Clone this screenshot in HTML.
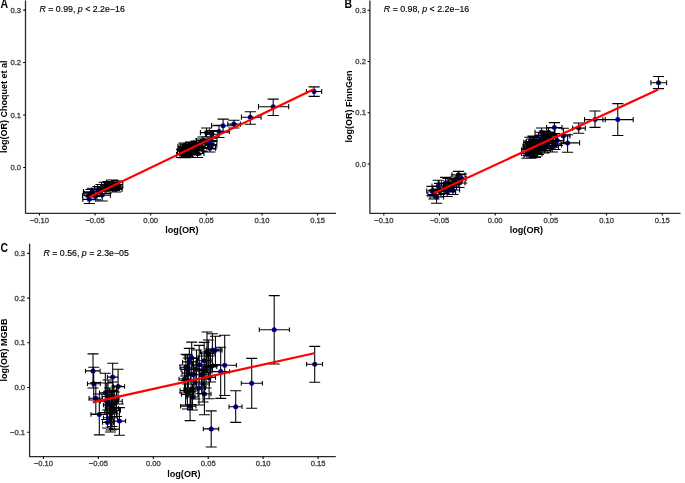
<!DOCTYPE html>
<html><head><meta charset="utf-8"><style>
html,body{margin:0;padding:0;background:#fff;}
body{width:685px;height:483px;overflow:hidden;}
svg{display:block;font-family:"Liberation Sans", sans-serif;will-change:transform;}

</style></head><body>
<svg width="685" height="483" viewBox="0 0 685 483">
<rect width="685" height="483" fill="#fff"/>
<g fill="#0000e6"><circle cx="314.10" cy="91.50" r="2.5"/><circle cx="273.20" cy="106.70" r="2.5"/><circle cx="250.30" cy="117.20" r="2.5"/><circle cx="233.90" cy="124.10" r="2.5"/><circle cx="223.10" cy="125.70" r="2.5"/><circle cx="219.00" cy="131.40" r="2.5"/><circle cx="206.60" cy="132.60" r="2.5"/><circle cx="211.90" cy="134.30" r="2.5"/><circle cx="211.20" cy="140.60" r="2.5"/><circle cx="207.60" cy="143.60" r="2.5"/><circle cx="211.50" cy="145.20" r="2.5"/><circle cx="209.90" cy="148.20" r="2.5"/><circle cx="197.60" cy="153.50" r="2.5"/><circle cx="195.00" cy="149.50" r="2.5"/><circle cx="183.50" cy="150.50" r="2.5"/><circle cx="181.50" cy="153.50" r="2.5"/><circle cx="184.50" cy="147.00" r="2.5"/><circle cx="187.00" cy="152.00" r="2.5"/><circle cx="189.00" cy="148.50" r="2.5"/><circle cx="190.50" cy="145.50" r="2.5"/><circle cx="192.00" cy="150.50" r="2.5"/><circle cx="193.50" cy="147.00" r="2.5"/><circle cx="196.00" cy="144.50" r="2.5"/><circle cx="198.50" cy="146.50" r="2.5"/><circle cx="200.50" cy="142.50" r="2.5"/><circle cx="186.00" cy="155.00" r="2.5"/><circle cx="203.00" cy="140.50" r="2.5"/><circle cx="202.00" cy="147.50" r="2.5"/><circle cx="89.30" cy="199.30" r="2.5"/><circle cx="92.40" cy="191.70" r="2.5"/><circle cx="95.50" cy="196.40" r="2.5"/><circle cx="102.20" cy="195.10" r="2.5"/><circle cx="98.00" cy="190.00" r="2.5"/><circle cx="101.00" cy="188.00" r="2.5"/><circle cx="104.00" cy="186.50" r="2.5"/><circle cx="106.00" cy="190.00" r="2.5"/><circle cx="108.00" cy="185.00" r="2.5"/><circle cx="110.00" cy="186.50" r="2.5"/><circle cx="111.50" cy="183.50" r="2.5"/><circle cx="112.90" cy="183.00" r="2.5"/><circle cx="114.00" cy="187.00" r="2.5"/><circle cx="115.60" cy="189.40" r="2.5"/><circle cx="116.50" cy="184.50" r="2.5"/><circle cx="117.50" cy="186.00" r="2.5"/><circle cx="113.00" cy="188.50" r="2.5"/><circle cx="188.33" cy="149.90" r="2.5"/><circle cx="189.11" cy="149.82" r="2.5"/><circle cx="190.82" cy="151.11" r="2.5"/><circle cx="183.27" cy="154.68" r="2.5"/><circle cx="195.75" cy="150.61" r="2.5"/><circle cx="184.20" cy="146.31" r="2.5"/><circle cx="184.66" cy="148.37" r="2.5"/><circle cx="188.17" cy="152.80" r="2.5"/><circle cx="189.00" cy="150.63" r="2.5"/><circle cx="195.97" cy="150.82" r="2.5"/><circle cx="186.41" cy="147.46" r="2.5"/><circle cx="192.73" cy="146.33" r="2.5"/><circle cx="91.00" cy="193.20" r="2.5"/><circle cx="88.50" cy="195.80" r="2.5"/></g>
<path d="M314.10 96.40V86.90M308.54 96.40H319.66M308.54 86.90H319.66M306.40 91.50H321.70M306.40 88.88V94.12M321.70 88.88V94.12M273.20 115.50V99.10M267.64 115.50H278.76M267.64 99.10H278.76M258.50 106.70H288.70M258.50 104.08V109.32M288.70 104.08V109.32M250.30 124.20V111.70M244.74 124.20H255.86M244.74 111.70H255.86M241.40 117.20H261.10M241.40 114.58V119.82M261.10 114.58V119.82M233.90 128.00V120.30M228.34 128.00H239.46M228.34 120.30H239.46M227.70 124.10H240.40M227.70 121.48V126.72M240.40 121.48V126.72M223.10 132.30V119.10M217.54 132.30H228.66M217.54 119.10H228.66M211.60 125.70H234.60M211.60 123.08V128.32M234.60 123.08V128.32M219.00 137.50V125.30M213.44 137.50H224.56M213.44 125.30H224.56M209.50 131.40H229.40M209.50 128.78V134.02M229.40 128.78V134.02M206.60 136.80V128.00M201.04 136.80H212.16M201.04 128.00H212.16M200.40 132.60H213.60M200.40 129.98V135.22M213.60 129.98V135.22M211.90 138.30V130.50M206.34 138.30H217.46M206.34 130.50H217.46M205.50 134.30H218.50M205.50 131.68V136.92M218.50 131.68V136.92M211.20 144.50V137.00M205.64 144.50H216.76M205.64 137.00H216.76M205.00 140.60H217.00M205.00 137.98V143.22M217.00 137.98V143.22M207.60 147.50V139.50M202.04 147.50H213.16M202.04 139.50H213.16M201.00 143.60H214.00M201.00 140.98V146.22M214.00 140.98V146.22M211.50 149.00V141.50M205.94 149.00H217.06M205.94 141.50H217.06M205.00 145.20H216.80M205.00 142.58V147.82M216.80 142.58V147.82M209.90 152.00V144.50M204.34 152.00H215.46M204.34 144.50H215.46M203.90 148.20H215.50M203.90 145.58V150.82M215.50 145.58V150.82M197.60 157.50V149.50M192.04 157.50H203.16M192.04 149.50H203.16M191.00 153.50H204.00M191.00 150.88V156.12M204.00 150.88V156.12M195.00 153.00V146.00M189.44 153.00H200.56M189.44 146.00H200.56M188.00 149.50H202.00M188.00 146.88V152.12M202.00 146.88V152.12M183.50 154.50V146.50M177.94 154.50H189.06M177.94 146.50H189.06M177.30 150.50H190.00M177.30 147.88V153.12M190.00 147.88V153.12M181.50 157.50V149.50M175.94 157.50H187.06M175.94 149.50H187.06M177.50 153.50H188.00M177.50 150.88V156.12M188.00 150.88V156.12M184.50 151.00V143.10M178.94 151.00H190.06M178.94 143.10H190.06M178.00 147.00H191.00M178.00 144.38V149.62M191.00 144.38V149.62M187.00 156.00V148.00M181.44 156.00H192.56M181.44 148.00H192.56M180.50 152.00H193.50M180.50 149.38V154.62M193.50 149.38V154.62M189.00 152.00V145.00M183.44 152.00H194.56M183.44 145.00H194.56M182.50 148.50H195.50M182.50 145.88V151.12M195.50 145.88V151.12M190.50 149.00V142.00M184.94 149.00H196.06M184.94 142.00H196.06M184.00 145.50H197.00M184.00 142.88V148.12M197.00 142.88V148.12M192.00 154.00V147.00M186.44 154.00H197.56M186.44 147.00H197.56M185.50 150.50H198.50M185.50 147.88V153.12M198.50 147.88V153.12M193.50 150.50V143.50M187.94 150.50H199.06M187.94 143.50H199.06M187.00 147.00H200.00M187.00 144.38V149.62M200.00 144.38V149.62M196.00 148.00V141.00M190.44 148.00H201.56M190.44 141.00H201.56M189.50 144.50H202.50M189.50 141.88V147.12M202.50 141.88V147.12M198.50 150.00V143.00M192.94 150.00H204.06M192.94 143.00H204.06M192.00 146.50H205.00M192.00 143.88V149.12M205.00 143.88V149.12M200.50 146.00V139.00M194.94 146.00H206.06M194.94 139.00H206.06M194.00 142.50H207.00M194.00 139.88V145.12M207.00 139.88V145.12M186.00 157.60V151.50M180.44 157.60H191.56M180.44 151.50H191.56M180.00 155.00H192.50M180.00 152.38V157.62M192.50 152.38V157.62M203.00 144.00V137.00M197.44 144.00H208.56M197.44 137.00H208.56M196.50 140.50H209.50M196.50 137.88V143.12M209.50 137.88V143.12M202.00 151.00V144.00M196.44 151.00H207.56M196.44 144.00H207.56M196.00 147.50H208.50M196.00 144.88V150.12M208.50 144.88V150.12M89.30 203.50V195.10M83.74 203.50H94.86M83.74 195.10H94.86M82.80 199.30H95.80M82.80 196.68V201.92M95.80 196.68V201.92M92.40 195.50V188.30M86.84 195.50H97.96M86.84 188.30H97.96M83.40 191.70H101.00M83.40 189.08V194.32M101.00 189.08V194.32M95.50 199.80V193.00M89.94 199.80H101.06M89.94 193.00H101.06M89.00 196.40H102.00M89.00 193.78V199.02M102.00 193.78V199.02M102.20 201.00V189.40M96.64 201.00H107.76M96.64 189.40H107.76M95.50 195.10H110.40M95.50 192.48V197.72M110.40 192.48V197.72M98.00 193.50V186.50M92.44 193.50H103.56M92.44 186.50H103.56M91.50 190.00H104.50M91.50 187.38V192.62M104.50 187.38V192.62M101.00 191.50V184.50M95.44 191.50H106.56M95.44 184.50H106.56M94.50 188.00H107.50M94.50 185.38V190.62M107.50 185.38V190.62M104.00 190.50V182.20M98.44 190.50H109.56M98.44 182.20H109.56M97.50 186.50H110.50M97.50 183.88V189.12M110.50 183.88V189.12M106.00 193.50V186.50M100.44 193.50H111.56M100.44 186.50H111.56M99.50 190.00H112.50M99.50 187.38V192.62M112.50 187.38V192.62M108.00 188.50V181.50M102.44 188.50H113.56M102.44 181.50H113.56M101.50 185.00H114.50M101.50 182.38V187.62M114.50 182.38V187.62M110.00 190.00V183.00M104.44 190.00H115.56M104.44 183.00H115.56M103.50 186.50H116.50M103.50 183.88V189.12M116.50 183.88V189.12M111.50 187.00V180.00M105.94 187.00H117.06M105.94 180.00H117.06M105.00 183.50H118.00M105.00 180.88V186.12M118.00 180.88V186.12M112.90 186.50V180.00M107.34 186.50H118.46M107.34 180.00H118.46M106.50 183.00H119.50M106.50 180.38V185.62M119.50 180.38V185.62M114.00 190.50V183.50M108.44 190.50H119.56M108.44 183.50H119.56M107.50 187.00H120.50M107.50 184.38V189.62M120.50 184.38V189.62M115.60 192.00V186.50M110.04 192.00H121.16M110.04 186.50H121.16M109.00 189.40H122.00M109.00 186.78V192.02M122.00 186.78V192.02M116.50 188.00V181.00M110.94 188.00H122.06M110.94 181.00H122.06M110.00 184.50H122.80M110.00 181.88V187.12M122.80 181.88V187.12M117.50 189.00V182.50M111.94 189.00H123.06M111.94 182.50H123.06M111.00 186.00H122.80M111.00 183.38V188.62M122.80 183.38V188.62M113.00 192.00V185.00M107.44 192.00H118.56M107.44 185.00H118.56M106.50 188.50H119.50M106.50 185.88V191.12M119.50 185.88V191.12M188.33 153.53V146.26M182.77 153.53H193.90M182.77 146.26H193.90M181.23 149.90H195.44M181.23 147.27V152.52M195.44 147.27V152.52M189.11 153.53V146.12M183.55 153.53H194.67M183.55 146.12H194.67M183.41 149.82H194.81M183.41 147.20V152.45M194.81 147.20V152.45M190.82 154.48V147.74M185.25 154.48H196.38M185.25 147.74H196.38M185.29 151.11H196.35M185.29 148.49V153.74M196.35 148.49V153.74M183.27 157.62V151.73M177.71 157.62H188.83M177.71 151.73H188.83M176.60 154.68H189.93M176.60 152.05V157.30M189.93 152.05V157.30M195.75 154.49V146.73M190.19 154.49H201.31M190.19 146.73H201.31M189.16 150.61H202.34M189.16 147.99V153.23M202.34 147.99V153.23M184.20 149.28V143.33M178.64 149.28H189.77M178.64 143.33H189.77M177.85 146.31H190.56M177.85 143.68V148.93M190.56 143.68V148.93M184.66 152.00V144.74M179.10 152.00H190.23M179.10 144.74H190.23M179.25 148.37H190.07M179.25 145.75V150.99M190.07 145.75V150.99M188.17 156.72V148.88M182.60 156.72H193.73M182.60 148.88H193.73M181.83 152.80H194.50M181.83 150.18V155.42M194.50 150.18V155.42M189.00 153.96V147.30M183.43 153.96H194.56M183.43 147.30H194.56M182.78 150.63H195.22M182.78 148.00V153.25M195.22 148.00V153.25M195.97 154.85V146.80M190.40 154.85H201.53M190.40 146.80H201.53M189.02 150.82H202.91M189.02 148.20V153.45M202.91 148.20V153.45M186.41 150.45V144.47M180.85 150.45H191.98M180.85 144.47H191.98M180.51 147.46H192.32M180.51 144.84V150.08M192.32 144.84V150.08M192.73 149.83V142.82M187.16 149.83H198.29M187.16 142.82H198.29M185.77 146.33H199.68M185.77 143.70V148.95M199.68 143.70V148.95M91.00 197.00V189.50M85.44 197.00H96.56M85.44 189.50H96.56M84.00 193.20H97.50M84.00 190.58V195.82M97.50 190.58V195.82M88.50 199.50V192.50M82.94 199.50H94.06M82.94 192.50H94.06M82.50 195.80H95.00M82.50 193.18V198.42M95.00 193.18V198.42" stroke="#000" stroke-width="1.07" fill="none"/>
<line x1="89.1" y1="197.3" x2="313.8" y2="89.3" stroke="#ff0000" stroke-width="2.15"/>
<path d="M25.5 0.5V213.3H336.0" stroke="#2a2a2a" stroke-width="1.3" fill="none" stroke-linecap="butt" stroke-linejoin="round"/>
<text x="39.42" y="222.70" font-size="7.6" font-weight="normal" text-anchor="middle" fill="#3a3a3a" stroke="#3a3a3a" stroke-width="0.3" style="">−0.10</text>
<text x="95.06" y="222.70" font-size="7.6" font-weight="normal" text-anchor="middle" fill="#3a3a3a" stroke="#3a3a3a" stroke-width="0.3" style="">−0.05</text>
<text x="150.70" y="222.70" font-size="7.6" font-weight="normal" text-anchor="middle" fill="#3a3a3a" stroke="#3a3a3a" stroke-width="0.3" style="">0.00</text>
<text x="206.34" y="222.70" font-size="7.6" font-weight="normal" text-anchor="middle" fill="#3a3a3a" stroke="#3a3a3a" stroke-width="0.3" style="">0.05</text>
<text x="261.98" y="222.70" font-size="7.6" font-weight="normal" text-anchor="middle" fill="#3a3a3a" stroke="#3a3a3a" stroke-width="0.3" style="">0.10</text>
<text x="317.62" y="222.70" font-size="7.6" font-weight="normal" text-anchor="middle" fill="#3a3a3a" stroke="#3a3a3a" stroke-width="0.3" style="">0.15</text>
<text x="21.00" y="170.00" font-size="7.6" font-weight="normal" text-anchor="end" fill="#3a3a3a" stroke="#3a3a3a" stroke-width="0.3" style="">0.0</text>
<text x="21.00" y="117.53" font-size="7.6" font-weight="normal" text-anchor="end" fill="#3a3a3a" stroke="#3a3a3a" stroke-width="0.3" style="">0.1</text>
<text x="21.00" y="65.06" font-size="7.6" font-weight="normal" text-anchor="end" fill="#3a3a3a" stroke="#3a3a3a" stroke-width="0.3" style="">0.2</text>
<text x="21.00" y="12.59" font-size="7.6" font-weight="normal" text-anchor="end" fill="#3a3a3a" stroke="#3a3a3a" stroke-width="0.3" style="">0.3</text>
<path d="M39.42 213.3v2.3M95.06 213.3v2.3M150.70 213.3v2.3M206.34 213.3v2.3M261.98 213.3v2.3M317.62 213.3v2.3M25.5 167.50h-2.3M25.5 115.03h-2.3M25.5 62.56h-2.3M25.5 10.09h-2.3" stroke="#000" stroke-width="1.07" fill="none"/>
<text x="181.95" y="233.30" font-size="9.1" font-weight="bold" text-anchor="middle" fill="#000"  style="">log(OR)</text>
<text transform="translate(6.80,106.70) rotate(-90)" font-size="9.0" font-weight="bold" text-anchor="middle" fill="#000">log(OR) Choquet et al</text>
<text transform="translate(0.55,7.95) scale(0.87,1)" font-size="12" font-weight="bold" fill="#000">A</text>
<text x="39.42" y="12.19" font-size="8.8" font-weight="normal" text-anchor="start" fill="#000" stroke="#000" stroke-width="0.15" style=""><tspan font-style="italic">R</tspan> = 0.99, <tspan font-style="italic">p</tspan> < 2.2e−16</text>
<g fill="#0000e6"><circle cx="658.50" cy="82.70" r="2.5"/><circle cx="617.80" cy="119.60" r="2.5"/><circle cx="595.00" cy="119.60" r="2.5"/><circle cx="578.70" cy="128.10" r="2.5"/><circle cx="567.60" cy="142.90" r="2.5"/><circle cx="563.40" cy="136.00" r="2.5"/><circle cx="548.50" cy="132.50" r="2.5"/><circle cx="545.00" cy="135.50" r="2.5"/><circle cx="554.40" cy="127.60" r="2.5"/><circle cx="541.50" cy="132.20" r="2.5"/><circle cx="549.00" cy="136.90" r="2.5"/><circle cx="557.30" cy="140.60" r="2.5"/><circle cx="552.20" cy="147.10" r="2.5"/><circle cx="545.70" cy="145.70" r="2.5"/><circle cx="528.00" cy="150.00" r="2.5"/><circle cx="527.00" cy="153.50" r="2.5"/><circle cx="530.00" cy="146.50" r="2.5"/><circle cx="532.00" cy="151.00" r="2.5"/><circle cx="533.00" cy="141.50" r="2.5"/><circle cx="535.00" cy="148.00" r="2.5"/><circle cx="537.00" cy="144.50" r="2.5"/><circle cx="538.50" cy="150.00" r="2.5"/><circle cx="540.00" cy="140.00" r="2.5"/><circle cx="542.00" cy="146.50" r="2.5"/><circle cx="530.50" cy="156.00" r="2.5"/><circle cx="543.50" cy="137.50" r="2.5"/><circle cx="546.50" cy="141.00" r="2.5"/><circle cx="535.50" cy="154.00" r="2.5"/><circle cx="436.60" cy="197.00" r="2.5"/><circle cx="432.00" cy="191.00" r="2.5"/><circle cx="434.00" cy="194.60" r="2.5"/><circle cx="439.60" cy="189.00" r="2.5"/><circle cx="438.20" cy="186.00" r="2.5"/><circle cx="445.50" cy="183.00" r="2.5"/><circle cx="444.00" cy="189.00" r="2.5"/><circle cx="447.20" cy="191.80" r="2.5"/><circle cx="448.00" cy="183.80" r="2.5"/><circle cx="450.00" cy="187.00" r="2.5"/><circle cx="452.00" cy="185.00" r="2.5"/><circle cx="453.00" cy="190.00" r="2.5"/><circle cx="455.00" cy="182.00" r="2.5"/><circle cx="456.30" cy="179.50" r="2.5"/><circle cx="458.50" cy="174.80" r="2.5"/><circle cx="461.70" cy="178.40" r="2.5"/><circle cx="459.00" cy="183.00" r="2.5"/><circle cx="531.89" cy="142.81" r="2.5"/><circle cx="534.43" cy="145.39" r="2.5"/><circle cx="528.45" cy="146.20" r="2.5"/><circle cx="533.09" cy="150.92" r="2.5"/><circle cx="535.53" cy="152.37" r="2.5"/><circle cx="539.72" cy="141.56" r="2.5"/><circle cx="529.73" cy="142.41" r="2.5"/><circle cx="530.17" cy="147.98" r="2.5"/><circle cx="534.57" cy="141.75" r="2.5"/><circle cx="536.16" cy="146.13" r="2.5"/><circle cx="533.44" cy="144.60" r="2.5"/><circle cx="530.93" cy="147.89" r="2.5"/><circle cx="547.50" cy="143.50" r="2.5"/><circle cx="551.00" cy="139.00" r="2.5"/><circle cx="544.00" cy="149.00" r="2.5"/><circle cx="555.00" cy="145.00" r="2.5"/></g>
<path d="M658.50 88.60V76.50M652.93 88.60H664.07M652.93 76.50H664.07M650.90 82.70H666.60M650.90 80.14V85.26M666.60 80.14V85.26M617.80 135.50V103.60M612.23 135.50H623.37M612.23 103.60H623.37M602.90 119.60H633.20M602.90 117.04V122.16M633.20 117.04V122.16M595.00 127.40V111.00M589.43 127.40H600.57M589.43 111.00H600.57M584.50 119.60H605.30M584.50 117.04V122.16M605.30 117.04V122.16M578.70 133.20V123.00M573.13 133.20H584.27M573.13 123.00H584.27M572.60 128.10H585.30M572.60 125.54V130.66M585.30 125.54V130.66M567.60 152.20V134.80M562.03 152.20H573.17M562.03 134.80H573.17M561.00 142.90H579.60M561.00 140.34V145.46M579.60 140.34V145.46M563.40 143.80V128.20M557.83 143.80H568.97M557.83 128.20H568.97M557.00 136.00H570.00M557.00 133.44V138.56M570.00 133.44V138.56M548.50 137.50V128.00M542.93 137.50H554.07M542.93 128.00H554.07M542.00 132.50H555.00M542.00 129.94V135.06M555.00 129.94V135.06M545.00 140.00V131.00M539.43 140.00H550.57M539.43 131.00H550.57M538.50 135.50H551.50M538.50 132.94V138.06M551.50 132.94V138.06M554.40 133.50V122.60M548.83 133.50H559.97M548.83 122.60H559.97M546.60 127.60H562.00M546.60 125.04V130.16M562.00 125.04V130.16M541.50 137.00V128.00M535.93 137.00H547.07M535.93 128.00H547.07M535.00 132.20H548.00M535.00 129.64V134.76M548.00 129.64V134.76M549.00 142.00V132.00M543.43 142.00H554.57M543.43 132.00H554.57M542.50 136.90H555.50M542.50 134.34V139.46M555.50 134.34V139.46M557.30 145.50V135.50M551.73 145.50H562.87M551.73 135.50H562.87M551.00 140.60H564.00M551.00 138.04V143.16M564.00 138.04V143.16M552.20 152.00V142.00M546.63 152.00H557.77M546.63 142.00H557.77M546.00 147.10H558.50M546.00 144.54V149.66M558.50 144.54V149.66M545.70 150.50V141.00M540.13 150.50H551.27M540.13 141.00H551.27M539.00 145.70H552.00M539.00 143.14V148.26M552.00 143.14V148.26M528.00 155.50V145.00M522.43 155.50H533.57M522.43 145.00H533.57M521.50 150.00H535.00M521.50 147.44V152.56M535.00 147.44V152.56M527.00 158.30V149.00M521.43 158.30H532.57M521.43 149.00H532.57M521.50 153.50H534.00M521.50 150.94V156.06M534.00 150.94V156.06M530.00 151.50V141.50M524.43 151.50H535.57M524.43 141.50H535.57M523.50 146.50H536.50M523.50 143.94V149.06M536.50 143.94V149.06M532.00 156.00V146.50M526.43 156.00H537.57M526.43 146.50H537.57M525.50 151.00H538.50M525.50 148.44V153.56M538.50 148.44V153.56M533.00 146.50V136.10M527.43 146.50H538.57M527.43 136.10H538.57M526.30 141.50H540.00M526.30 138.94V144.06M540.00 138.94V144.06M535.00 153.00V143.00M529.43 153.00H540.57M529.43 143.00H540.57M528.50 148.00H541.50M528.50 145.44V150.56M541.50 145.44V150.56M537.00 149.50V139.50M531.43 149.50H542.57M531.43 139.50H542.57M530.50 144.50H543.50M530.50 141.94V147.06M543.50 141.94V147.06M538.50 154.50V145.50M532.93 154.50H544.07M532.93 145.50H544.07M532.00 150.00H545.00M532.00 147.44V152.56M545.00 147.44V152.56M540.00 145.00V135.00M534.43 145.00H545.57M534.43 135.00H545.57M533.50 140.00H546.50M533.50 137.44V142.56M546.50 137.44V142.56M542.00 151.00V142.00M536.43 151.00H547.57M536.43 142.00H547.57M535.50 146.50H548.50M535.50 143.94V149.06M548.50 143.94V149.06M530.50 158.30V152.00M524.93 158.30H536.07M524.93 152.00H536.07M524.00 156.00H537.00M524.00 153.44V158.56M537.00 153.44V158.56M543.50 142.00V133.00M537.93 142.00H549.07M537.93 133.00H549.07M537.00 137.50H550.00M537.00 134.94V140.06M550.00 134.94V140.06M546.50 145.50V136.50M540.93 145.50H552.07M540.93 136.50H552.07M540.00 141.00H553.00M540.00 138.44V143.56M553.00 138.44V143.56M535.50 157.50V150.00M529.93 157.50H541.07M529.93 150.00H541.07M529.00 154.00H542.00M529.00 151.44V156.56M542.00 151.44V156.56M436.60 203.20V190.50M431.03 203.20H442.17M431.03 190.50H442.17M430.00 197.00H443.60M430.00 194.44V199.56M443.60 194.44V199.56M432.00 195.50V186.40M426.43 195.50H437.57M426.43 186.40H437.57M426.70 191.00H438.50M426.70 188.44V193.56M438.50 188.44V193.56M434.00 199.00V190.00M428.43 199.00H439.57M428.43 190.00H439.57M427.90 194.60H441.00M427.90 192.04V197.16M441.00 192.04V197.16M439.60 194.50V183.40M434.03 194.50H445.17M434.03 183.40H445.17M433.00 189.00H446.00M433.00 186.44V191.56M446.00 186.44V191.56M438.20 191.00V180.30M432.63 191.00H443.77M432.63 180.30H443.77M432.00 186.00H444.50M432.00 183.44V188.56M444.50 183.44V188.56M445.50 188.50V177.40M439.93 188.50H451.07M439.93 177.40H451.07M439.00 183.00H452.00M439.00 180.44V185.56M452.00 180.44V185.56M444.00 193.60V184.00M438.43 193.60H449.57M438.43 184.00H449.57M437.50 189.00H450.50M437.50 186.44V191.56M450.50 186.44V191.56M447.20 196.50V186.50M441.63 196.50H452.77M441.63 186.50H452.77M440.50 191.80H455.60M440.50 189.24V194.36M455.60 189.24V194.36M448.00 189.00V178.50M442.43 189.00H453.57M442.43 178.50H453.57M441.50 183.80H454.50M441.50 181.24V186.36M454.50 181.24V186.36M450.00 192.00V182.00M444.43 192.00H455.57M444.43 182.00H455.57M443.50 187.00H456.50M443.50 184.44V189.56M456.50 184.44V189.56M452.00 190.00V180.00M446.43 190.00H457.57M446.43 180.00H457.57M445.50 185.00H458.50M445.50 182.44V187.56M458.50 182.44V187.56M453.00 194.50V185.00M447.43 194.50H458.57M447.43 185.00H458.57M446.50 190.00H459.60M446.50 187.44V192.56M459.60 187.44V192.56M455.00 187.00V177.00M449.43 187.00H460.57M449.43 177.00H460.57M448.50 182.00H461.50M448.50 179.44V184.56M461.50 179.44V184.56M456.30 184.00V175.00M450.73 184.00H461.87M450.73 175.00H461.87M450.00 179.50H462.50M450.00 176.94V182.06M462.50 176.94V182.06M458.50 178.50V171.40M452.93 178.50H464.07M452.93 171.40H464.07M452.00 174.80H465.00M452.00 172.24V177.36M465.00 172.24V177.36M461.70 183.00V174.00M456.13 183.00H467.27M456.13 174.00H467.27M456.00 178.40H466.10M456.00 175.84V180.96M466.10 175.84V180.96M459.00 187.50V179.00M453.43 187.50H464.57M453.43 179.00H464.57M453.00 183.00H465.00M453.00 180.44V185.56M465.00 180.44V185.56M531.89 146.56V139.06M526.32 146.56H537.45M526.32 139.06H537.45M525.30 142.81H538.47M525.30 140.25V145.37M538.47 140.25V145.37M534.43 150.02V140.76M528.86 150.02H540.00M528.86 140.76H540.00M528.97 145.39H539.90M528.97 142.83V147.95M539.90 142.83V147.95M528.45 149.99V142.42M522.88 149.99H534.02M522.88 142.42H534.02M522.96 146.20H533.94M522.96 143.64V148.77M533.94 143.64V148.77M533.09 154.97V146.87M527.53 154.97H538.66M527.53 146.87H538.66M527.51 150.92H538.68M527.51 148.36V153.48M538.68 148.36V153.48M535.53 156.78V147.97M529.96 156.78H541.10M529.96 147.97H541.10M529.08 152.37H541.97M529.08 149.81V154.93M541.97 149.81V154.93M539.72 145.75V137.37M534.15 145.75H545.28M534.15 137.37H545.28M532.74 141.56H546.69M532.74 139.00V144.12M546.69 139.00V144.12M529.73 147.67V137.16M524.16 147.67H535.30M524.16 137.16H535.30M523.79 142.41H535.67M523.79 139.85V144.98M535.67 139.85V144.98M530.17 152.33V143.63M524.60 152.33H535.74M524.60 143.63H535.74M523.61 147.98H536.73M523.61 145.42V150.54M536.73 145.42V150.54M534.57 145.77V137.74M529.00 145.77H540.14M529.00 137.74H540.14M529.11 141.75H540.04M529.11 139.19V144.31M540.04 139.19V144.31M536.16 150.92V141.35M530.60 150.92H541.73M530.60 141.35H541.73M530.22 146.13H542.11M530.22 143.57V148.69M542.11 143.57V148.69M533.44 149.61V139.58M527.87 149.61H539.01M527.87 139.58H539.01M526.58 144.60H540.29M526.58 142.04V147.16M540.29 142.04V147.16M530.93 153.27V142.52M525.36 153.27H536.50M525.36 142.52H536.50M524.58 147.89H537.28M524.58 145.33V150.45M537.28 145.33V150.45M547.50 148.00V139.00M541.93 148.00H553.07M541.93 139.00H553.07M541.00 143.50H554.00M541.00 140.94V146.06M554.00 140.94V146.06M551.00 143.50V134.50M545.43 143.50H556.57M545.43 134.50H556.57M544.50 139.00H557.50M544.50 136.44V141.56M557.50 136.44V141.56M544.00 153.00V145.00M538.43 153.00H549.57M538.43 145.00H549.57M537.50 149.00H550.50M537.50 146.44V151.56M550.50 146.44V151.56M555.00 149.50V141.00M549.43 149.50H560.57M549.43 141.00H560.57M548.50 145.00H561.50M548.50 142.44V147.56M561.50 142.44V147.56" stroke="#000" stroke-width="1.07" fill="none"/>
<line x1="434.0" y1="193.3" x2="658.3" y2="89.4" stroke="#ff0000" stroke-width="2.15"/>
<path d="M369.9 0.5V213.3H680.5" stroke="#2a2a2a" stroke-width="1.3" fill="none" stroke-linecap="butt" stroke-linejoin="round"/>
<text x="383.84" y="222.70" font-size="7.6" font-weight="normal" text-anchor="middle" fill="#3a3a3a" stroke="#3a3a3a" stroke-width="0.3" style="">−0.10</text>
<text x="439.52" y="222.70" font-size="7.6" font-weight="normal" text-anchor="middle" fill="#3a3a3a" stroke="#3a3a3a" stroke-width="0.3" style="">−0.05</text>
<text x="495.20" y="222.70" font-size="7.6" font-weight="normal" text-anchor="middle" fill="#3a3a3a" stroke="#3a3a3a" stroke-width="0.3" style="">0.00</text>
<text x="550.88" y="222.70" font-size="7.6" font-weight="normal" text-anchor="middle" fill="#3a3a3a" stroke="#3a3a3a" stroke-width="0.3" style="">0.05</text>
<text x="606.56" y="222.70" font-size="7.6" font-weight="normal" text-anchor="middle" fill="#3a3a3a" stroke="#3a3a3a" stroke-width="0.3" style="">0.10</text>
<text x="662.24" y="222.70" font-size="7.6" font-weight="normal" text-anchor="middle" fill="#3a3a3a" stroke="#3a3a3a" stroke-width="0.3" style="">0.15</text>
<text x="365.90" y="166.50" font-size="7.6" font-weight="normal" text-anchor="end" fill="#3a3a3a" stroke="#3a3a3a" stroke-width="0.3" style="">0.0</text>
<text x="365.90" y="115.27" font-size="7.6" font-weight="normal" text-anchor="end" fill="#3a3a3a" stroke="#3a3a3a" stroke-width="0.3" style="">0.1</text>
<text x="365.90" y="64.04" font-size="7.6" font-weight="normal" text-anchor="end" fill="#3a3a3a" stroke="#3a3a3a" stroke-width="0.3" style="">0.2</text>
<text x="365.90" y="12.81" font-size="7.6" font-weight="normal" text-anchor="end" fill="#3a3a3a" stroke="#3a3a3a" stroke-width="0.3" style="">0.3</text>
<path d="M383.84 213.3v2.3M439.52 213.3v2.3M495.20 213.3v2.3M550.88 213.3v2.3M606.56 213.3v2.3M662.24 213.3v2.3M369.9 164.00h-2.3M369.9 112.77h-2.3M369.9 61.54h-2.3M369.9 10.31h-2.3" stroke="#000" stroke-width="1.07" fill="none"/>
<text x="526.40" y="233.30" font-size="9.1" font-weight="bold" text-anchor="middle" fill="#000"  style="">log(OR)</text>
<text transform="translate(351.70,106.60) rotate(-90)" font-size="9.0" font-weight="bold" text-anchor="middle" fill="#000">log(OR) FinnGen</text>
<text transform="translate(344.6,7.95) scale(0.87,1)" font-size="12" font-weight="bold" fill="#000">B</text>
<text x="383.84" y="12.41" font-size="8.8" font-weight="normal" text-anchor="start" fill="#000" stroke="#000" stroke-width="0.15" style=""><tspan font-style="italic">R</tspan> = 0.98, <tspan font-style="italic">p</tspan> < 2.2e−16</text>
<g fill="#0000e6"><circle cx="314.70" cy="364.20" r="2.5"/><circle cx="274.20" cy="329.80" r="2.5"/><circle cx="251.70" cy="383.20" r="2.5"/><circle cx="235.70" cy="406.70" r="2.5"/><circle cx="211.20" cy="428.90" r="2.5"/><circle cx="93.00" cy="370.90" r="2.5"/><circle cx="93.70" cy="383.70" r="2.5"/><circle cx="112.70" cy="377.10" r="2.5"/><circle cx="118.10" cy="386.60" r="2.5"/><circle cx="105.30" cy="392.80" r="2.5"/><circle cx="95.80" cy="398.30" r="2.5"/><circle cx="116.50" cy="401.20" r="2.5"/><circle cx="106.70" cy="401.30" r="2.5"/><circle cx="109.60" cy="404.90" r="2.5"/><circle cx="112.10" cy="408.20" r="2.5"/><circle cx="114.30" cy="410.40" r="2.5"/><circle cx="111.00" cy="412.50" r="2.5"/><circle cx="99.30" cy="414.50" r="2.5"/><circle cx="119.40" cy="421.10" r="2.5"/><circle cx="108.00" cy="396.50" r="2.5"/><circle cx="113.00" cy="398.00" r="2.5"/><circle cx="110.50" cy="417.80" r="2.5"/><circle cx="107.50" cy="422.50" r="2.5"/><circle cx="207.00" cy="352.00" r="2.5"/><circle cx="212.40" cy="349.90" r="2.5"/><circle cx="215.40" cy="350.20" r="2.5"/><circle cx="224.70" cy="365.20" r="2.5"/><circle cx="220.70" cy="371.60" r="2.5"/><circle cx="210.50" cy="367.00" r="2.5"/><circle cx="204.20" cy="360.70" r="2.5"/><circle cx="199.20" cy="364.80" r="2.5"/><circle cx="191.70" cy="357.80" r="2.5"/><circle cx="189.30" cy="361.90" r="2.5"/><circle cx="185.90" cy="367.30" r="2.5"/><circle cx="187.60" cy="369.40" r="2.5"/><circle cx="188.40" cy="373.10" r="2.5"/><circle cx="193.40" cy="374.80" r="2.5"/><circle cx="201.70" cy="374.80" r="2.5"/><circle cx="209.10" cy="377.40" r="2.5"/><circle cx="199.00" cy="388.00" r="2.5"/><circle cx="185.60" cy="390.60" r="2.5"/><circle cx="191.10" cy="389.30" r="2.5"/><circle cx="187.40" cy="394.50" r="2.5"/><circle cx="204.40" cy="394.00" r="2.5"/><circle cx="190.10" cy="406.20" r="2.5"/><circle cx="208.30" cy="353.70" r="2.5"/><circle cx="196.50" cy="369.00" r="2.5"/><circle cx="195.00" cy="382.00" r="2.5"/><circle cx="203.00" cy="384.00" r="2.5"/><circle cx="206.00" cy="370.00" r="2.5"/><circle cx="184.50" cy="379.00" r="2.5"/><circle cx="192.50" cy="397.00" r="2.5"/></g>
<path d="M314.70 382.20V346.40M309.21 382.20H320.19M309.21 346.40H320.19M306.60 364.20H322.50M306.60 361.96V366.44M322.50 361.96V366.44M274.20 364.00V295.60M268.71 364.00H279.69M268.71 295.60H279.69M259.30 329.80H289.40M259.30 327.56V332.04M289.40 327.56V332.04M251.70 408.20V358.40M246.21 408.20H257.19M246.21 358.40H257.19M241.30 383.20H262.40M241.30 380.96V385.44M262.40 380.96V385.44M235.70 422.40V390.70M230.21 422.40H241.19M230.21 390.70H241.19M229.00 406.70H242.00M229.00 404.46V408.94M242.00 404.46V408.94M211.20 447.00V410.90M205.71 447.00H216.69M205.71 410.90H216.69M203.30 428.90H218.70M203.30 426.66V431.13M218.70 426.66V431.13M93.00 388.00V353.90M87.51 388.00H98.49M87.51 353.90H98.49M85.50 370.90H100.10M85.50 368.66V373.13M100.10 368.66V373.13M93.70 400.00V367.30M88.21 400.00H99.19M88.21 367.30H99.19M87.50 383.70H100.30M87.50 381.46V385.94M100.30 381.46V385.94M112.70 391.00V363.20M107.21 391.00H118.19M107.21 363.20H118.19M107.40 377.10H118.00M107.40 374.87V379.34M118.00 374.87V379.34M118.10 404.00V369.30M112.61 404.00H123.59M112.61 369.30H123.59M113.50 386.60H124.60M113.50 384.37V388.84M124.60 384.37V388.84M105.30 412.50V373.30M99.81 412.50H110.79M99.81 373.30H110.79M99.50 392.80H111.00M99.50 390.56V395.04M111.00 390.56V395.04M95.80 414.00V382.50M90.31 414.00H101.29M90.31 382.50H101.29M89.10 398.30H102.50M89.10 396.06V400.54M102.50 396.06V400.54M116.50 416.50V386.00M111.01 416.50H121.99M111.01 386.00H121.99M111.00 401.20H122.30M111.00 398.96V403.44M122.30 398.96V403.44M106.70 419.50V383.00M101.21 419.50H112.19M101.21 383.00H112.19M100.50 401.30H113.00M100.50 399.06V403.54M113.00 399.06V403.54M109.60 422.00V388.00M104.11 422.00H115.09M104.11 388.00H115.09M103.40 404.90H116.00M103.40 402.66V407.13M116.00 402.66V407.13M112.10 426.50V390.00M106.61 426.50H117.59M106.61 390.00H117.59M106.00 408.20H118.50M106.00 405.96V410.44M118.50 405.96V410.44M114.30 429.10V392.00M108.81 429.10H119.79M108.81 392.00H119.79M108.00 410.40H120.50M108.00 408.16V412.63M120.50 408.16V412.63M111.00 430.00V395.00M105.51 430.00H116.49M105.51 395.00H116.49M104.80 412.50H117.20M104.80 410.26V414.74M117.20 410.26V414.74M99.30 434.90V394.00M93.81 434.90H104.79M93.81 394.00H104.79M91.00 414.50H107.60M91.00 412.26V416.74M107.60 412.26V416.74M119.40 435.30V407.60M113.91 435.30H124.89M113.91 407.60H124.89M113.50 421.10H125.60M113.50 418.87V423.34M125.60 418.87V423.34M108.00 413.00V380.00M102.51 413.00H113.49M102.51 380.00H113.49M102.00 396.50H114.00M102.00 394.26V398.74M114.00 394.26V398.74M113.00 414.00V382.00M107.51 414.00H118.49M107.51 382.00H118.49M107.00 398.00H119.00M107.00 395.76V400.24M119.00 395.76V400.24M110.50 432.00V403.00M105.01 432.00H115.99M105.01 403.00H115.99M103.40 417.80H117.50M103.40 415.56V420.04M117.50 415.56V420.04M107.50 428.00V410.00M102.01 428.00H112.99M102.01 410.00H112.99M102.60 422.50H113.50M102.60 420.26V424.74M113.50 420.26V424.74M207.00 372.00V332.00M201.51 372.00H212.49M201.51 332.00H212.49M200.50 352.00H213.50M200.50 349.76V354.24M213.50 349.76V354.24M212.40 366.00V333.70M206.91 366.00H217.89M206.91 333.70H217.89M206.00 349.90H219.00M206.00 347.66V352.13M219.00 347.66V352.13M215.40 364.50V336.20M209.91 364.50H220.89M209.91 336.20H220.89M209.00 350.20H222.00M209.00 347.96V352.44M222.00 347.96V352.44M224.70 395.50V335.30M219.21 395.50H230.19M219.21 335.30H230.19M213.00 365.20H236.40M213.00 362.96V367.44M236.40 362.96V367.44M220.70 398.40V347.20M215.21 398.40H226.19M215.21 347.20H226.19M212.00 371.60H229.50M212.00 369.37V373.84M229.50 369.37V373.84M210.50 382.00V352.00M205.01 382.00H215.99M205.01 352.00H215.99M204.50 367.00H216.80M204.50 364.76V369.24M216.80 364.76V369.24M204.20 379.00V342.40M198.71 379.00H209.69M198.71 342.40H209.69M197.50 360.70H211.00M197.50 358.46V362.94M211.00 358.46V362.94M199.20 384.00V345.40M193.71 384.00H204.69M193.71 345.40H204.69M192.50 364.80H206.00M192.50 362.56V367.04M206.00 362.56V367.04M191.70 373.50V342.10M186.21 373.50H197.19M186.21 342.10H197.19M185.00 357.80H198.50M185.00 355.56V360.04M198.50 355.56V360.04M189.30 375.50V348.40M183.81 375.50H194.79M183.81 348.40H194.79M182.50 361.90H196.00M182.50 359.66V364.13M196.00 359.66V364.13M185.90 380.50V354.20M180.41 380.50H191.39M180.41 354.20H191.39M180.00 367.30H192.00M180.00 365.06V369.54M192.00 365.06V369.54M187.60 384.00V355.00M182.11 384.00H193.09M182.11 355.00H193.09M181.00 369.40H194.00M181.00 367.16V371.63M194.00 367.16V371.63M188.40 388.00V358.00M182.91 388.00H193.89M182.91 358.00H193.89M182.00 373.10H195.00M182.00 370.87V375.34M195.00 370.87V375.34M193.40 391.00V358.50M187.91 391.00H198.89M187.91 358.50H198.89M187.00 374.80H200.00M187.00 372.56V377.04M200.00 372.56V377.04M201.70 393.50V356.00M196.21 393.50H207.19M196.21 356.00H207.19M195.00 374.80H208.50M195.00 372.56V377.04M208.50 372.56V377.04M209.10 398.80V356.00M203.61 398.80H214.59M203.61 356.00H214.59M202.50 377.40H215.50M202.50 375.16V379.63M215.50 375.16V379.63M199.00 405.00V371.00M193.51 405.00H204.49M193.51 371.00H204.49M192.50 388.00H205.50M192.50 385.76V390.24M205.50 385.76V390.24M185.60 405.00V376.00M180.11 405.00H191.09M180.11 376.00H191.09M180.10 390.60H191.50M180.10 388.37V392.84M191.50 388.37V392.84M191.10 404.50V374.00M185.61 404.50H196.59M185.61 374.00H196.59M185.00 389.30H197.50M185.00 387.06V391.54M197.50 387.06V391.54M187.40 409.00V380.00M181.91 409.00H192.89M181.91 380.00H192.89M181.40 394.50H193.50M181.40 392.26V396.74M193.50 392.26V396.74M204.40 414.80V373.00M198.91 414.80H209.89M198.91 373.00H209.89M198.00 394.00H211.00M198.00 391.76V396.24M211.00 391.76V396.24M190.10 420.60V392.00M184.61 420.60H195.59M184.61 392.00H195.59M180.60 406.20H195.90M180.60 403.96V408.44M195.90 403.96V408.44M208.30 367.50V340.00M202.81 367.50H213.79M202.81 340.00H213.79M201.50 353.70H215.00M201.50 351.46V355.94M215.00 351.46V355.94M196.50 388.00V350.00M191.01 388.00H201.99M191.01 350.00H201.99M190.00 369.00H203.00M190.00 366.76V371.24M203.00 366.76V371.24M195.00 399.00V365.00M189.51 399.00H200.49M189.51 365.00H200.49M188.50 382.00H201.50M188.50 379.76V384.24M201.50 379.76V384.24M203.00 402.00V366.00M197.51 402.00H208.49M197.51 366.00H208.49M196.50 384.00H209.50M196.50 381.76V386.24M209.50 381.76V386.24M206.00 388.00V352.00M200.51 388.00H211.49M200.51 352.00H211.49M199.50 370.00H212.50M199.50 367.76V372.24M212.50 367.76V372.24M184.50 393.00V365.00M179.01 393.00H189.99M179.01 365.00H189.99M179.00 379.00H190.50M179.00 376.76V381.24M190.50 376.76V381.24M192.50 410.00V384.00M187.01 410.00H197.99M187.01 384.00H197.99M186.00 397.00H199.00M186.00 394.76V399.24M199.00 394.76V399.24" stroke="#000" stroke-width="1.07" fill="none"/>
<line x1="92.7" y1="402.35" x2="314.2" y2="353.25" stroke="#ff0000" stroke-width="2.15"/>
<path d="M29.6 243.8V456.6H335.8" stroke="#2a2a2a" stroke-width="1.3" fill="none" stroke-linecap="butt" stroke-linejoin="round"/>
<text x="43.46" y="466.00" font-size="7.6" font-weight="normal" text-anchor="middle" fill="#3a3a3a" stroke="#3a3a3a" stroke-width="0.3" style="">−0.10</text>
<text x="98.38" y="466.00" font-size="7.6" font-weight="normal" text-anchor="middle" fill="#3a3a3a" stroke="#3a3a3a" stroke-width="0.3" style="">−0.05</text>
<text x="153.30" y="466.00" font-size="7.6" font-weight="normal" text-anchor="middle" fill="#3a3a3a" stroke="#3a3a3a" stroke-width="0.3" style="">0.00</text>
<text x="208.22" y="466.00" font-size="7.6" font-weight="normal" text-anchor="middle" fill="#3a3a3a" stroke="#3a3a3a" stroke-width="0.3" style="">0.05</text>
<text x="263.14" y="466.00" font-size="7.6" font-weight="normal" text-anchor="middle" fill="#3a3a3a" stroke="#3a3a3a" stroke-width="0.3" style="">0.10</text>
<text x="318.06" y="466.00" font-size="7.6" font-weight="normal" text-anchor="middle" fill="#3a3a3a" stroke="#3a3a3a" stroke-width="0.3" style="">0.15</text>
<text x="25.10" y="434.70" font-size="7.6" font-weight="normal" text-anchor="end" fill="#3a3a3a" stroke="#3a3a3a" stroke-width="0.3" style="">−0.1</text>
<text x="25.10" y="390.00" font-size="7.6" font-weight="normal" text-anchor="end" fill="#3a3a3a" stroke="#3a3a3a" stroke-width="0.3" style="">0.0</text>
<text x="25.10" y="345.30" font-size="7.6" font-weight="normal" text-anchor="end" fill="#3a3a3a" stroke="#3a3a3a" stroke-width="0.3" style="">0.1</text>
<text x="25.10" y="300.60" font-size="7.6" font-weight="normal" text-anchor="end" fill="#3a3a3a" stroke="#3a3a3a" stroke-width="0.3" style="">0.2</text>
<text x="25.10" y="255.90" font-size="7.6" font-weight="normal" text-anchor="end" fill="#3a3a3a" stroke="#3a3a3a" stroke-width="0.3" style="">0.3</text>
<path d="M43.46 456.6v2.3M98.38 456.6v2.3M153.30 456.6v2.3M208.22 456.6v2.3M263.14 456.6v2.3M318.06 456.6v2.3M29.6 432.20h-2.3M29.6 387.50h-2.3M29.6 342.80h-2.3M29.6 298.10h-2.3M29.6 253.40h-2.3" stroke="#000" stroke-width="1.07" fill="none"/>
<text x="183.90" y="476.60" font-size="9.1" font-weight="bold" text-anchor="middle" fill="#000"  style="">log(OR)</text>
<text transform="translate(6.80,350.00) rotate(-90)" font-size="9.0" font-weight="bold" text-anchor="middle" fill="#000">log(OR) MGBB</text>
<text transform="translate(0.45,251.5) scale(0.87,1)" font-size="12" font-weight="bold" fill="#000">C</text>
<text x="43.46" y="255.50" font-size="8.8" font-weight="normal" text-anchor="start" fill="#000" stroke="#000" stroke-width="0.15" style=""><tspan font-style="italic">R</tspan> = 0.56, <tspan font-style="italic">p</tspan> = 2.3e−05</text>
</svg>
</body></html>
